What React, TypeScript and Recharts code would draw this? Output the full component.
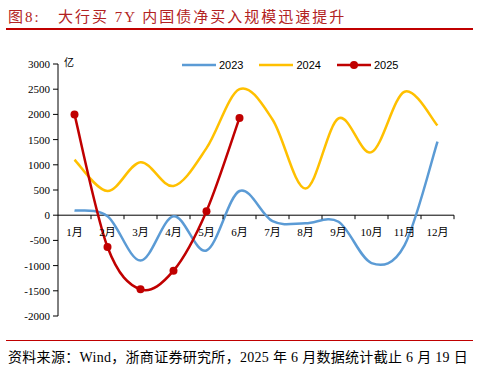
import React from "react";
import { LineChart, Line, XAxis, YAxis, ReferenceLine } from "recharts";

const months = ["1月", "2月", "3月", "4月", "5月", "6月", "7月", "8月", "9月", "10月", "11月", "12月"];
const y2023 = [95, -20, -900, -20, -700, 480, -120, -160, -130, -950, -600, 1460];
const y2024 = [1100, 480, 1050, 580, 1330, 2500, 1900, 530, 1920, 1250, 2450, 1780];
const y2025: (number | null)[] = [2000, -630, -1470, -1100, 80, 1930, null, null, null, null, null, null];
const yTicks = [-2000, -1500, -1000, -500, 0, 500, 1000, 1500, 2000, 2500, 3000];

const data = months.map((m, i) => ({ month: m, a: y2023[i], b: y2024[i], c: y2025[i] }));

const SERIF = '"Liberation Serif", "Noto Sans CJK SC", serif';
const TOP = 64;
const PLOT_H = 252;
const BAND = 33;
const zeroY = TOP + PLOT_H * (3000 / 5000);

// Excel-like smoothing (Catmull-Rom through the points)
function smooth(context: any) {
  let pts: number[][] = [];
  return {
    areaStart() {},
    areaEnd() {},
    lineStart() {
      pts = [];
    },
    lineEnd() {
      const n = pts.length;
      if (!n) return;
      context.moveTo(pts[0][0], pts[0][1]);
      for (let i = 0; i < n - 1; i++) {
        const p0 = pts[Math.max(i - 1, 0)];
        const p1 = pts[i];
        const p2 = pts[i + 1];
        const p3 = pts[Math.min(i + 2, n - 1)];
        context.bezierCurveTo(
          p1[0] + (p2[0] - p0[0]) / 6,
          p1[1] + (p2[1] - p0[1]) / 6,
          p2[0] - (p3[0] - p1[0]) / 6,
          p2[1] - (p3[1] - p1[1]) / 6,
          p2[0],
          p2[1]
        );
      }
    },
    point(x: number, y: number) {
      pts.push([+x, +y]);
    },
  };
}

const MonthTick = (props: any) => {
  const { x, payload } = props;
  return (
    <g>
      <line x1={x + BAND / 2} x2={x + BAND / 2} y1={zeroY} y2={zeroY + 4} stroke="#000" />
      <text x={x} y={zeroY + 21} textAnchor="middle" fontSize={11} fontFamily={SERIF} fill="#000">
        {payload.value}
      </text>
    </g>
  );
};

const legendItems = [
  { name: "2023", color: "#5B9BD5", dot: false },
  { name: "2024", color: "#FFC000", dot: false },
  { name: "2025", color: "#C00000", dot: true },
];

export default function App() {
  return (
    <div style={{ position: "absolute", left: 0, top: 0, width: 489, height: 376, background: "#fff" }}>
      <div
        style={{
          position: "absolute",
          left: 8,
          top: 5,
          fontFamily: SERIF,
          fontSize: 15,
          letterSpacing: 2,
          color: "#B22222",
          whiteSpace: "pre",
        }}
      >
        图8:   大行买 7Y 内国债净买入规模迅速提升
      </div>
      <div style={{ position: "absolute", left: 6, top: 28, width: 467, height: 2, background: "#C00000" }} />
      <div style={{ position: "absolute", left: 64, top: 54, fontFamily: SERIF, fontSize: 10, color: "#000" }}>亿</div>
      <div
        style={{
          position: "absolute",
          left: 182,
          top: 59,
          display: "flex",
          alignItems: "center",
          fontFamily: '"Liberation Sans", Arial, sans-serif',
          fontSize: 11,
          zIndex: 2,
        }}
      >
        {legendItems.map((it) => (
          <div key={it.name} style={{ display: "flex", alignItems: "center", marginRight: 16 }}>
            <svg width={34} height={10}>
              <line x1={0} x2={34} y1={5} y2={5} stroke={it.color} strokeWidth={2.5} />
              {it.dot && <circle cx={17} cy={5} r={4} fill={it.color} />}
            </svg>
            <span style={{ marginLeft: 3, color: "#000" }}>{it.name}</span>
          </div>
        ))}
      </div>
      <LineChart
        width={489}
        height={376}
        data={data}
        margin={{ top: TOP, right: 35, bottom: 376 - TOP - PLOT_H - 1, left: 0 }}
        style={{ position: "absolute", left: 0, top: 0 }}
      >
        <XAxis
          dataKey="month"
          axisLine={false}
          tickLine={false}
          tick={<MonthTick />}
          height={1}
          interval={0}
          padding={{ left: BAND / 2, right: BAND / 2 }}
        />
        <YAxis
          domain={[-2000, 3000]}
          ticks={yTicks}
          interval={0}
          width={58}
          axisLine={{ stroke: "#000" }}
          tickLine={{ stroke: "#000" }}
          tickSize={5}
          tickMargin={3}
          tick={{ fontSize: 11, fontFamily: SERIF, fill: "#000" }}
        />
        <ReferenceLine y={0} stroke="#000" strokeWidth={1} />
        <Line type={smooth as any} dataKey="a" stroke="#5B9BD5" strokeWidth={2.5} dot={false} isAnimationActive={false} />
        <Line type={smooth as any} dataKey="b" stroke="#FFC000" strokeWidth={2.5} dot={false} isAnimationActive={false} />
        <Line
          type={smooth as any}
          dataKey="c"
          stroke="#C00000"
          strokeWidth={2.5}
          dot={{ r: 4, fill: "#C00000", stroke: "#C00000", strokeWidth: 0 }}
          isAnimationActive={false}
        />
      </LineChart>
      <div style={{ position: "absolute", left: 6, top: 340, width: 467, height: 1, background: "#C00000" }} />
      <div
        style={{
          position: "absolute",
          left: 8,
          top: 346,
          fontFamily: SERIF,
          fontSize: 14,
          letterSpacing: 0.3,
          color: "#000",
          whiteSpace: "pre",
        }}
      >
        资料来源：Wind，浙商证券研究所，2025 年 6 月数据统计截止 6 月 19 日
      </div>
    </div>
  );
}
